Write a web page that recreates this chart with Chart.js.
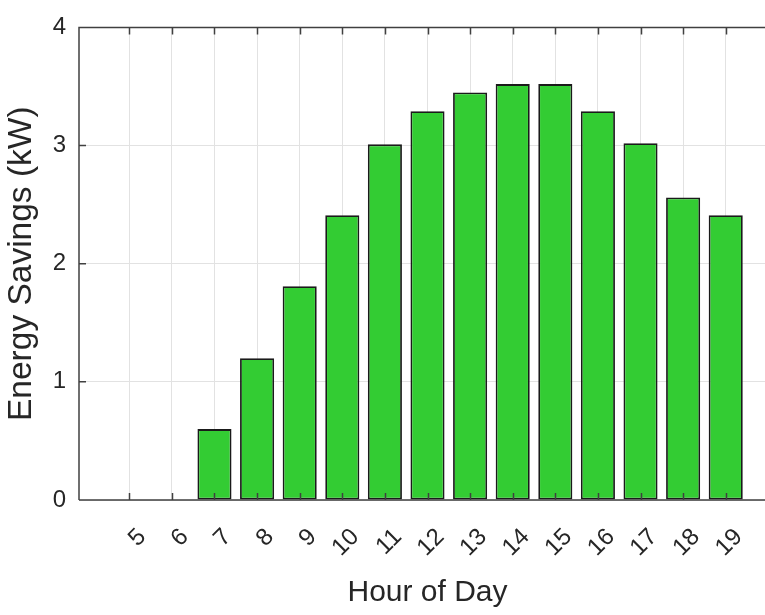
<!DOCTYPE html>
<html>
<head>
<meta charset="utf-8">
<script src="https://cdn.jsdelivr.net/npm/chart.js@4/dist/chart.umd.min.js"></script>
<style>
  html, body { margin: 0; padding: 0; background: #fff; overflow: hidden; }
</style>
</head>
<body>
<canvas id="chart" width="790" height="615"></canvas>
<script>
// data
const hours = [5, 6, 7, 8, 9, 10, 11, 12, 13, 14, 15, 16, 17, 18, 19];
const savings = [0, 0, 0.6, 1.2, 1.81, 2.41, 3.01, 3.29, 3.45, 3.52, 3.52, 3.29, 3.02, 2.56, 2.41];
const yTicks = [0, 1, 2, 3, 4];

const axisColor = "#404040";
const textColor = "#262626";
const font = "'Liberation Sans', Arial, sans-serif";

/* ===== MATLAB style box with inward ticks ===== */
const boxTicks = {
  id: "boxTicks",
  afterDatasetsDraw(chart) {
    const { ctx, chartArea: a, scales: { x, y } } = chart;
    ctx.save();
    ctx.strokeStyle = axisColor;
    ctx.lineWidth = 1.5;
    ctx.beginPath();
    ctx.moveTo(a.left, a.bottom);
    ctx.lineTo(a.left, a.top);
    ctx.lineTo(a.right, a.top);
    ctx.moveTo(a.left, a.bottom);
    ctx.lineTo(a.right, a.bottom);
    hours.forEach(v => {
      const px = Math.round(x.getPixelForValue(v)) + 0.5;
      ctx.moveTo(px, a.bottom);
      ctx.lineTo(px, a.bottom - 7);
      ctx.moveTo(px, a.top);
      ctx.lineTo(px, a.top + 7);
    });
    yTicks.forEach(v => {
      const py = y.getPixelForValue(v);
      ctx.moveTo(a.left, py);
      ctx.lineTo(a.left + 7, py);
    });
    ctx.stroke();
    ctx.restore();
  }
};

new Chart(document.getElementById("chart"), {
  type: "bar",
  data: {
    datasets: [{
      data: hours.map((h, i) => ({ x: h, y: savings[i] })),
      backgroundColor: "#33cc33",
      borderColor: "#1a1a1a",
      borderWidth: 1.8,
      borderSkipped: false,
      barPercentage: 1,
      categoryPercentage: 0.8
    }]
  },
  options: {
    responsive: false,
    animation: false,
    layout: { padding: { left: 0, top: 20, right: 14, bottom: 0 } },
    plugins: { legend: { display: false }, tooltip: { enabled: false } },
    scales: {
      x: {
        type: "linear",
        offset: false,
        min: 3.82,
        max: 20.18,
        afterBuildTicks: s => { s.ticks = hours.map(v => ({ value: v })); },
        afterFit: s => { s.height = 115; },
        grid: { color: "#e2e2e2", lineWidth: 1, drawTicks: false, offset: false },
        border: { display: false },
        ticks: {
          autoSkip: false,
          minRotation: 45,
          maxRotation: 45,
          padding: 23,
          labelOffset: 13,
          color: textColor,
          font: { family: font, size: 24 },
          callback: v => String(v)
        },
        title: {
          display: true,
          text: "Hour of Day",
          color: textColor,
          font: { family: font, size: 30 },
          padding: { top: 0, bottom: 4 }
        }
      },
      y: {
        min: 0,
        max: 4,
        afterBuildTicks: s => { s.ticks = yTicks.map(v => ({ value: v })); },
        afterFit: s => { s.width = 79; },
        grid: { color: "#e2e2e2", lineWidth: 1, drawTicks: false },
        border: { display: false },
        ticks: {
          padding: 13,
          color: textColor,
          font: { family: font, size: 24 }
        },
        title: {
          display: true,
          text: "Energy Savings (kW)",
          color: textColor,
          font: { family: font, size: 33.5 },
          padding: { top: 2, bottom: 0 }
        }
      }
    }
  },
  plugins: [boxTicks]
});
</script>
</body>
</html>
